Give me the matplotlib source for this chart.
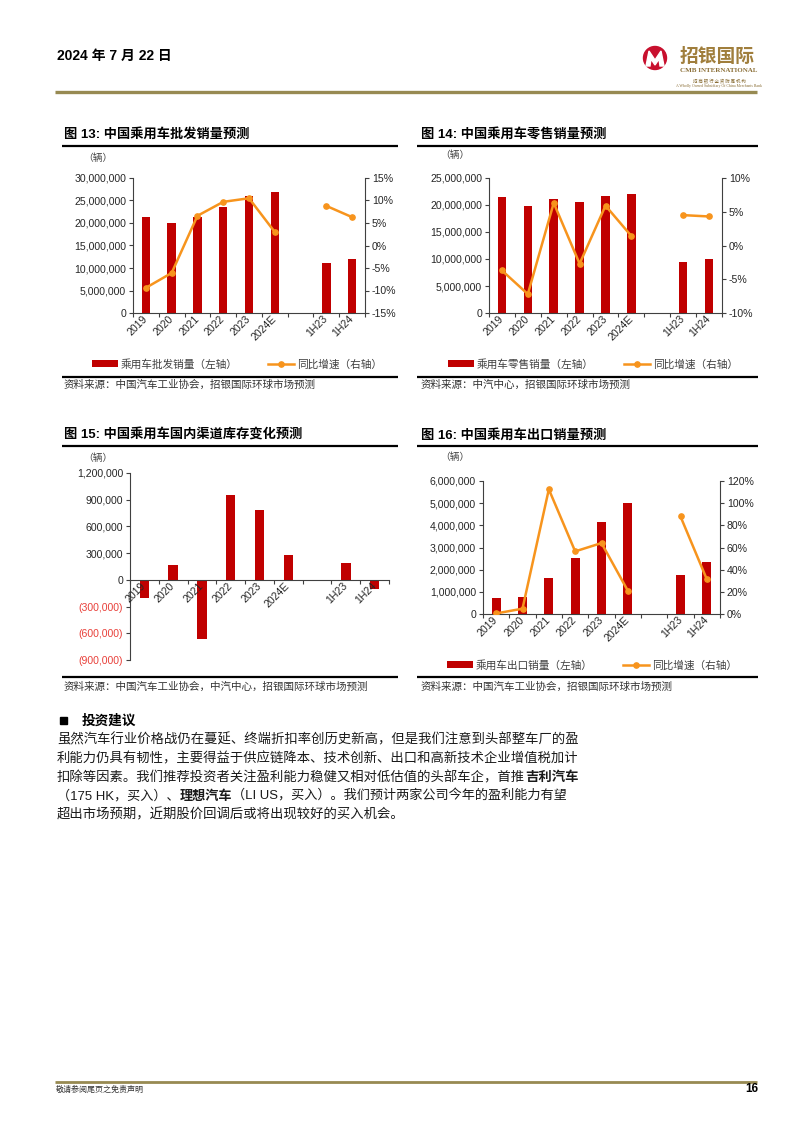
import matplotlib
matplotlib.use('Agg')
import matplotlib.pyplot as plt
import numpy as np
from matplotlib.patches import Rectangle, Circle, Polygon
from matplotlib.ticker import FuncFormatter, MultipleLocator, FixedLocator

plt.rcParams['font.family'] = ['Liberation Sans', 'Noto Sans CJK SC', 'DejaVu Sans']
plt.rcParams['axes.unicode_minus'] = False

# ---------------- data ----------------
categories = ['2019', '2020', '2021', '2022', '2023', '2024E', '', '1H23', '1H24']
nan = np.nan
wholesale = [21.4e6, 20.1e6, 21.4e6, 23.5e6, 25.9e6, 26.8e6, nan, 11.2e6, 11.9e6]
wholesale_yoy = [-9.4, -6.1, 6.6, 9.7, 10.5, 3.0, nan, 8.8, 6.3]
retail = [21.4e6, 19.9e6, 21.1e6, 20.5e6, 21.7e6, 22.0e6, nan, 9.45e6, 9.95e6]
retail_yoy = [-3.7, -7.2, 6.3, -2.7, 5.9, 1.4, nan, 4.5, 4.3]
inventory_change = [-206e3, 165e3, -660e3, 950e3, 780e3, 281e3, nan, 191e3, -101e3]
export = [0.72e6, 0.77e6, 1.61e6, 2.53e6, 4.15e6, 5.02e6, nan, 1.77e6, 2.33e6]
export_yoy = [0.5, 4.8, 112.5, 56.5, 64.0, 21.0, nan, 88.0, 31.3]

RED = '#C00000'
ORANGE = '#F7941D'
AXC = '#404040'
TXT = '#262626'
GOLD = '#978A52'

W, H = 794, 1123
fig = plt.figure(figsize=(W / 100, H / 100), dpi=100)
fig.patch.set_facecolor('white')

bg = fig.add_axes([0, 0, 1, 1])
bg.set_xlim(0, W)
bg.set_ylim(H, 0)
bg.axis('off')


def axpx(x0, y0, x1, y1):
    return fig.add_axes([x0 / W, 1 - y1 / H, (x1 - x0) / W, (y1 - y0) / H])


def hline(y, x0, x1, lw=1.6, color='black'):
    bg.plot([x0, x1], [y, y], color=color, lw=lw, solid_capstyle='butt')


def comma(v, pos=None):
    return f'{v:,.0f}'


def pct(v, pos=None):
    return f'{v:.0f}%'


def base_style(ax):
    ax.set_facecolor('none')
    for s in ['top', 'right']:
        ax.spines[s].set_visible(False)
    for s in ['left', 'bottom']:
        ax.spines[s].set_color(AXC)
        ax.spines[s].set_linewidth(0.8)
    ax.tick_params(axis='y', direction='out', length=3, width=0.8, color=AXC,
                   labelsize=7.6, labelcolor=TXT, pad=2)
    ax.tick_params(axis='x', which='major', length=0, labelsize=7.6,
                   labelcolor=TXT, pad=3)
    ax.tick_params(axis='x', which='minor', direction='out', length=3,
                   width=0.8, color=AXC)
    x = np.arange(len(categories))
    ax.set_xlim(-0.5, len(categories) - 0.5)
    ax.set_xticks(x)
    ax.set_xticklabels(categories, rotation=45, ha='right', va='center',
                       rotation_mode='anchor')
    ax.xaxis.set_minor_locator(FixedLocator(np.arange(-0.5, len(categories), 1)))


def combo(rect, bars, yoy, ylim, ystep, y2lim, y2step, labels, legend_xy):
    ax = axpx(*rect)
    base_style(ax)
    x = np.arange(len(categories))
    bc = ax.bar(x, bars, width=0.33, color=RED, zorder=2)
    ax.set_ylim(*ylim)
    ax.yaxis.set_major_locator(MultipleLocator(ystep))
    ax.yaxis.set_major_formatter(FuncFormatter(comma))
    ax2 = ax.twinx()
    ax2.set_facecolor('none')
    for s in ['top', 'left', 'bottom']:
        ax2.spines[s].set_visible(False)
    ax2.spines['right'].set_color(AXC)
    ax2.spines['right'].set_linewidth(0.8)
    ln, = ax2.plot(x, yoy, color=ORANGE, lw=1.8, marker='o', ms=3.8,
                   zorder=3)
    ax2.set_ylim(*y2lim)
    ax2.yaxis.set_major_locator(MultipleLocator(y2step))
    ax2.yaxis.set_major_formatter(FuncFormatter(pct))
    ax2.tick_params(axis='y', direction='out', length=3, width=0.8, color=AXC,
                    labelsize=7.6, labelcolor=TXT, pad=2)
    fig.legend([bc, ln], labels, loc='center',
               bbox_to_anchor=(legend_xy[0] / W, 1 - legend_xy[1] / H),
               ncol=2, frameon=False, fontsize=7.7, handlelength=2.4,
               handleheight=0.6, handletextpad=0.3, columnspacing=2.8,
               labelcolor='#404040')
    return ax


# ---------------- header ----------------
bg.text(57, 56, '2024 年 7 月 22 日', fontsize=10, fontweight='bold',
        va='center', ha='left', color='black')
hline(92, 55, 757, lw=2.4, color=GOLD)
# logo
bg.add_patch(Circle((655, 58), 11.5, color='#C8102E', zorder=3))
bg.add_patch(Polygon([(646, 66), (649, 51), (655, 60), (661, 51), (664, 66),
                      (660, 66), (659, 59), (655, 65), (651, 59), (650, 66)],
                     closed=True, color='white', zorder=4))
bg.text(680, 57, '招银国际', fontsize=13.5, fontweight='bold', color='#A07E3C',
        va='center', ha='left', family=['Noto Sans CJK SC'])
bg.text(719, 70.5, 'CMB INTERNATIONAL', fontsize=5.0, fontweight='bold',
        color='#8A6E36', va='center', ha='center', family=['Liberation Serif'])
bg.text(719, 81, '招 商 银 行 全 资 附 属 机 构', fontsize=3.2, color='#8A6E36',
        va='center', ha='center', family=['Noto Sans CJK SC'])
bg.text(719, 86.5, 'A Wholly Owned Subsidiary Of China Merchants Bank',
        fontsize=2.8, color='#8A6E36', va='center', ha='center',
        family=['Liberation Serif'])

SRC_FS = 7.6

# ---------------- chart 13 ----------------
bg.text(64, 134, '图 13: 中国乘用车批发销量预测', fontsize=9.5, fontweight='bold',
        va='center', ha='left', color='black')
hline(145.5, 62, 398)
bg.text(83, 158, '（辆）', fontsize=7, color='#404040', va='center', ha='left')
combo((133, 178, 365, 313), wholesale, wholesale_yoy, (0, 30e6), 5e6,
      (-15, 15), 5, ['乘用车批发销量（左轴）', '同比增速（右轴）'], (237, 364))
hline(376.5, 62, 398)
bg.text(64, 385, '资料来源：中国汽车工业协会，招银国际环球市场预测', fontsize=SRC_FS,
        color='#333333', va='center', ha='left')

# ---------------- chart 14 ----------------
bg.text(421, 134, '图 14: 中国乘用车零售销量预测', fontsize=9.5, fontweight='bold',
        va='center', ha='left', color='black')
hline(145.5, 417, 758)
bg.text(440, 155, '（辆）', fontsize=7, color='#404040', va='center', ha='left')
combo((489, 178, 722, 313), retail, retail_yoy, (0, 25e6), 5e6,
      (-10, 10), 5, ['乘用车零售销量（左轴）', '同比增速（右轴）'], (593, 364))
hline(376.5, 417, 758)
bg.text(421, 385, '资料来源：中汽中心，招银国际环球市场预测', fontsize=SRC_FS,
        color='#333333', va='center', ha='left')

# ---------------- chart 15 ----------------
bg.text(64, 435, '图 15: 中国乘用车国内渠道库存变化预测', fontsize=9.5,
        fontweight='bold', va='center', ha='left', color='black')
hline(446, 62, 398)
bg.text(83, 458, '（辆）', fontsize=7, color='#404040', va='center', ha='left')
ax15 = axpx(130, 473, 389, 660)
ax15.spines['bottom'].set_position(('data', 0))
base_style(ax15)
ax15.set_axisbelow(False)
x = np.arange(len(categories))
ax15.bar(x, inventory_change, width=0.33, color=RED, zorder=2)
ax15.set_ylim(-900000, 1200000)
ticks15 = np.arange(-900000, 1200001, 300000)
ax15.set_yticks(ticks15)
ax15.set_yticklabels([f'({-t:,.0f})' if t < 0 else f'{t:,.0f}' for t in ticks15])
for lbl, t in zip(ax15.get_yticklabels(), ticks15):
    if t < 0:
        lbl.set_color('#E8403A')
for lbl in ax15.get_xticklabels():
    lbl.set_rotation(45)
    lbl.set_ha('right')
    lbl.set_va('center')
    lbl.set_rotation_mode('anchor')
hline(677, 62, 398)
bg.text(64, 687, '资料来源：中国汽车工业协会，中汽中心，招银国际环球市场预测',
        fontsize=SRC_FS, color='#333333', va='center', ha='left')

# ---------------- chart 16 ----------------
bg.text(421, 435, '图 16: 中国乘用车出口销量预测', fontsize=9.5, fontweight='bold',
        va='center', ha='left', color='black')
hline(446, 417, 758)
bg.text(440, 457, '（辆）', fontsize=7, color='#404040', va='center', ha='left')
combo((483, 481, 720, 614), export, export_yoy, (0, 6e6), 1e6,
      (0, 120), 20, ['乘用车出口销量（左轴）', '同比增速（右轴）'], (592, 665))
hline(677, 417, 758)
bg.text(421, 687, '资料来源：中国汽车工业协会，招银国际环球市场预测', fontsize=SRC_FS,
        color='#333333', va='center', ha='left')

# ---------------- investment text ----------------
bg.add_patch(Rectangle((60, 716.5), 7, 7, color='black'))
bg.text(82, 721, '投资建议', fontsize=9.8, fontweight='bold', va='center',
        ha='left', color='black')

PFS = 9.6
PC = '#1a1a1a'


def chain(parts, x, y, fs=PFS):
    prev = None
    for txt, bold in parts:
        fw = 'bold' if bold else 'normal'
        if prev is None:
            prev = bg.text(x, y, txt, fontsize=fs, fontweight=fw, color=PC,
                           va='bottom', ha='left')
        else:
            prev = bg.annotate(txt, xy=(1, 0), xycoords=prev, fontsize=fs,
                               fontweight=fw, color=PC, va='bottom', ha='left')


lines = [
    [('虽然汽车行业价格战仍在蔓延、终端折扣率创历史新高，但是我们注意到头部整车厂的盈', False)],
    [('利能力仍具有韧性，主要得益于供应链降本、技术创新、出口和高新技术企业增值税加计', False)],
    [('扣除等因素。我们推荐投资者关注盈利能力稳健又相对低估值的头部车企，首推', False),
     ('吉利汽车', True)],
    [('（175 HK，买入）、', False), ('理想汽车', True),
     ('（LI US，买入）。我们预计两家公司今年的盈利能力有望', False)],
    [('超出市场预期，近期股价回调后或将出现较好的买入机会。', False)],
]
line_y = [739, 758, 777, 796, 814.5]
line_fs = [PFS, PFS, PFS, 9.45, PFS]
for parts, yy, fs in zip(lines, line_y, line_fs):
    chain(parts, 57, yy + 7, fs)

# ---------------- footer ----------------
hline(1081.5, 55, 757, lw=2.0, color=GOLD)
bg.text(56, 1090, '敬请参阅尾页之免责声明', fontsize=5.8, color='#333333',
        va='center', ha='left')
bg.text(758, 1089, '16', fontsize=8.5, fontweight='bold', color='black',
        va='center', ha='right')

fig.savefig('out.png', dpi=100)
